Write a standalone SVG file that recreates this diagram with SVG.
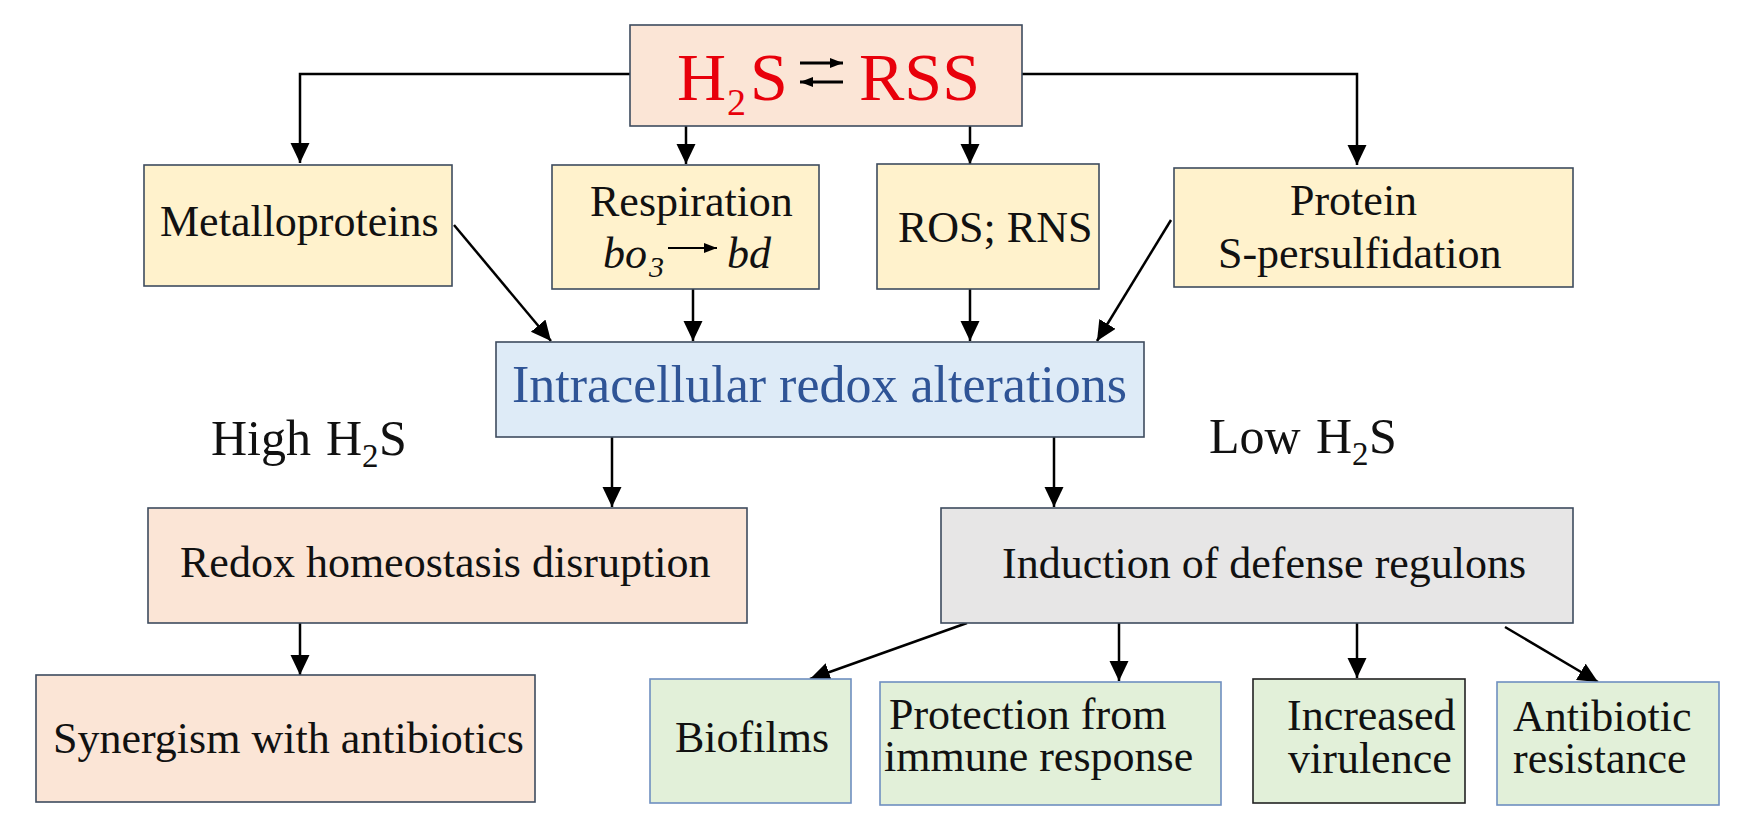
<svg xmlns="http://www.w3.org/2000/svg" width="1743" height="833" viewBox="0 0 1743 833" font-family="'Liberation Serif', 'Times New Roman', 'DejaVu Serif', serif">
<style>
.box{stroke:#3E4B5E;stroke-width:1.6}
.peach{fill:#FBE5D6}
.yel{fill:#FFF2CC}
.blue{fill:#DEEBF7}
.gray{fill:#E7E6E6}
.green{fill:#E2F0D9;stroke:#6F8FC0}
.greenk{fill:#E2F0D9;stroke:#222}
text{font-family:'Liberation Serif','Times New Roman','DejaVu Serif',serif;font-size:44px;fill:#111}
.red{fill:#E8000B;font-size:68px}
.bl{fill:#2F5496;font-size:52px}
.c{stroke:#000;stroke-width:2.5;fill:none;marker-end:url(#ah)}
</style>
<defs>
<marker id="ah" markerUnits="userSpaceOnUse" markerWidth="20" markerHeight="20" refX="20" refY="9.5" orient="auto">
<path d="M0,0 L20,9.5 L0,19 z" fill="#000"/>
</marker>
<marker id="sm" markerUnits="userSpaceOnUse" markerWidth="13" markerHeight="10" refX="13" refY="5" orient="auto">
<path d="M0,0 L13,5 L0,10 z" fill="#000"/>
</marker>
</defs>
<rect width="1743" height="833" fill="#fff"/>

<g id="connectors">
<polyline class="c" points="630,74 300,74 300,163"/>
<polyline class="c" points="1022,74 1357,74 1357,165"/>
<line class="c" x1="686" y1="126" x2="686" y2="164"/>
<line class="c" x1="970" y1="126" x2="970" y2="164"/>
<line class="c" x1="454" y1="225" x2="551" y2="341"/>
<line class="c" x1="693" y1="289" x2="693" y2="341"/>
<line class="c" x1="970" y1="289" x2="970" y2="341"/>
<line class="c" x1="1171" y1="220" x2="1097" y2="341"/>
<line class="c" x1="612" y1="437" x2="612" y2="507"/>
<line class="c" x1="1054" y1="437" x2="1054" y2="507"/>
<line class="c" x1="300" y1="623" x2="300" y2="675"/>
<line class="c" x1="967" y1="623" x2="810" y2="679"/>
<line class="c" x1="1119" y1="623" x2="1119" y2="681"/>
<line class="c" x1="1357" y1="623" x2="1357" y2="678"/>
<line class="c" x1="1505" y1="627" x2="1598" y2="682"/>
</g>

<g id="h2s-rss">
<rect class="box peach" x="630" y="25" width="392" height="101"/>
<text class="red" y="100"><tspan x="677">H</tspan><tspan x="727" y="115" font-size="38">2</tspan><tspan x="750" y="100">S</tspan><tspan x="859" y="100">RSS</tspan></text>
<line x1="800" y1="63" x2="843" y2="63" stroke="#000" stroke-width="3" marker-end="url(#sm)"/>
<line x1="843" y1="82" x2="800" y2="82" stroke="#000" stroke-width="3" marker-end="url(#sm)"/>
</g>

<g id="metalloproteins">
<rect class="box yel" x="144" y="165" width="308" height="121"/>
<text x="160" y="236">Metalloproteins</text>
</g>

<g id="respiration">
<rect class="box yel" x="552" y="165" width="267" height="124"/>
<text x="590" y="216">Respiration</text>
<text font-style="italic" y="268"><tspan x="603">bo</tspan><tspan x="649" y="277" font-size="30">3</tspan><tspan x="727" y="268">bd</tspan></text>
<line x1="668" y1="248" x2="717" y2="248" stroke="#000" stroke-width="2" marker-end="url(#sm)"/>
</g>

<g id="ros-rns">
<rect class="box yel" x="877" y="164" width="222" height="125"/>
<text x="898" y="242" font-size="43">ROS; RNS</text>
</g>

<g id="protein-persulfidation">
<rect class="box yel" x="1174" y="168" width="399" height="119"/>
<text x="1290" y="215">Protein</text>
<text x="1218" y="268">S-persulfidation</text>
</g>

<g id="intracellular">
<rect class="box blue" x="496" y="342" width="648" height="95"/>
<text class="bl" x="512" y="402">Intracellular redox alterations</text>
</g>

<g id="labels">
<text y="455" style="font-size:50px"><tspan x="211">High</tspan><tspan x="326">H</tspan><tspan x="362" y="467" style="font-size:33px">2</tspan><tspan x="379" y="455">S</tspan></text>
<text y="453" style="font-size:50px"><tspan x="1209">Low</tspan><tspan x="1316">H</tspan><tspan x="1352" y="465" style="font-size:33px">2</tspan><tspan x="1369" y="453">S</tspan></text>
</g>

<g id="redox-disruption">
<rect class="box peach" x="148" y="508" width="599" height="115"/>
<text x="180" y="577">Redox homeostasis disruption</text>
</g>

<g id="induction">
<rect class="box gray" x="941" y="508" width="632" height="115"/>
<text x="1002" y="578">Induction of defense regulons</text>
</g>

<g id="synergism">
<rect class="box peach" x="36" y="675" width="499" height="127"/>
<text x="53" y="753">Synergism with antibiotics</text>
</g>

<g id="biofilms">
<rect class="box green" x="650" y="679" width="201" height="124"/>
<text x="675" y="752">Biofilms</text>
</g>

<g id="protection">
<rect class="box green" x="880" y="682" width="341" height="123"/>
<text x="889" y="729">Protection from</text>
<text x="884" y="771">immune response</text>
</g>

<g id="virulence">
<rect class="box greenk" x="1253" y="679" width="212" height="124"/>
<text x="1287" y="730">Increased</text>
<text x="1288" y="773">virulence</text>
</g>

<g id="resistance">
<rect class="box green" x="1497" y="682" width="222" height="123"/>
<text x="1513" y="731">Antibiotic</text>
<text x="1513" y="773">resistance</text>
</g>
</svg>
